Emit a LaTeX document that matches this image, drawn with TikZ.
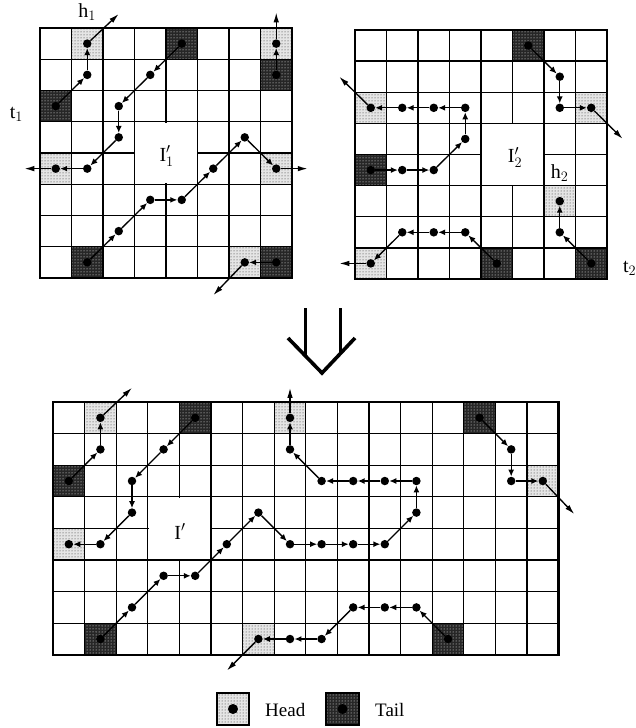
\documentclass[tikz,border=0pt]{standalone}
\usepackage{fontspec}
\setmainfont{Liberation Serif}
\usetikzlibrary{arrows.meta,patterns}
\tikzset{
  gl/.style={line width=1.3pt},
  gridframe/.style={line width=2.6pt},
  headcell/.style={fill=black!10, postaction={pattern=dots, pattern color=black!85}},
  tailcell/.style={fill=black!85, postaction={pattern=dots, pattern color=white}},
  dot/.style={circle, fill=black, inner sep=0pt, minimum size=8.5pt},
  arr/.style={line width=1.35pt, -{Latex[length=7pt,width=6pt]}},
  exitarr/.style={line width=1.35pt, -{Latex[length=10pt,width=5.5pt]}},
  lab/.style={inner sep=0pt, font=\fontsize{20}{24}\selectfont},
  leglab/.style={inner sep=0pt, anchor=base west, font=\fontsize{19}{23}\selectfont},
  bigarrow/.style={line width=3.6pt, line join=miter, line cap=butt},
}
\begin{document}
\begin{tikzpicture}[x=1pt, y=-1pt]
\useasboundingbox (0,0) rectangle (636,728);

% ---------------- top-left grid I1' ----------------
\begin{scope}[shift={(40pt,-28pt)}, x=31.5pt, y=-31.25pt]
  \foreach \c/\r in {1/0,7/0,0/4,7/4,6/7} \path[headcell] (\c,\r) rectangle ++(1,1);
  \foreach \c/\r in {4/0,7/1,0/2,1/7,7/7} \path[tailcell] (\c,\r) rectangle ++(1,1);
  \foreach \i in {1,...,7} {\draw[gl] (\i,0) -- (\i,8); \draw[gl] (0,\i) -- (8,\i);}
  \fill[white] (3.03,3.03) rectangle (4.97,4.97);
  \draw[gridframe] (0,0) rectangle (8,8);
  \foreach \c/\r in {0/2,1/1,1/0,4/0,3/1,2/2,2/3,1/4,0/4,1/7,2/6,3/5,4/5,5/4,6/3,7/4,7/1,7/0,7/7,6/7}
    \node[dot] (A-\c-\r) at (\c+.5,\r+.5) {};
  \foreach \a/\b in {0-2/1-1,1-1/1-0,4-0/3-1,3-1/2-2,2-2/2-3,2-3/1-4,1-4/0-4,
                     1-7/2-6,2-6/3-5,3-5/4-5,4-5/5-4,5-4/6-3,6-3/7-4,7-1/7-0,7-7/6-7}
    \draw[arr] (A-\a) -- (A-\b);
  \coordinate (A-x1) at (2.5,-0.45);
  \coordinate (A-x2) at (-0.5,4.5);
  \coordinate (A-x3) at (8.5,4.5);
  \coordinate (A-x4) at (7.5,-0.5);
  \coordinate (A-x5) at (5.5,8.55);
  \draw[exitarr] (A-1-0) -- (A-x1);
  \draw[exitarr] (A-0-4) -- (A-x2);
  \draw[exitarr] (A-7-4) -- (A-x3);
  \draw[exitarr] (A-7-0) -- (A-x4);
  \draw[exitarr] (A-6-7) -- (A-x5);
  \node[lab] (h1) at (1.5,-0.5) {h$_1$};
  \node[lab] (t1) at (-0.75,2.75) {t$_1$};
  \node[lab] (I1) at (4.02,4.1) {I$_1'$};
\end{scope}

% ---------------- top-right grid I2' ----------------
\begin{scope}[shift={(355pt,-30pt)}, x=31.5pt, y=-31.125pt]
  \foreach \c/\r in {0/2,7/2,6/5,0/7} \path[headcell] (\c,\r) rectangle ++(1,1);
  \foreach \c/\r in {5/0,0/4,4/7,7/7} \path[tailcell] (\c,\r) rectangle ++(1,1);
  \foreach \i in {1,...,7} {\draw[gl] (\i,0) -- (\i,8); \draw[gl] (0,\i) -- (8,\i);}
  \fill[white] (4.03,3.03) rectangle (5.97,4.97);
  \draw[gridframe] (0,0) rectangle (8,8);
  \foreach \c/\r in {5/0,6/1,6/2,7/2,0/4,1/4,2/4,3/3,3/2,2/2,1/2,0/2,4/7,3/6,2/6,1/6,0/7,7/7,6/6,6/5}
    \node[dot] (B-\c-\r) at (\c+.5,\r+.5) {};
  \foreach \a/\b in {5-0/6-1,6-1/6-2,6-2/7-2,0-4/1-4,1-4/2-4,2-4/3-3,3-3/3-2,3-2/2-2,2-2/1-2,1-2/0-2,
                     4-7/3-6,3-6/2-6,2-6/1-6,1-6/0-7,7-7/6-6,6-6/6-5}
    \draw[arr] (B-\a) -- (B-\b);
  \coordinate (B-x1) at (8.5,3.5);
  \coordinate (B-x2) at (-0.5,1.5);
  \coordinate (B-x3) at (-0.5,7.5);
  \draw[exitarr] (B-7-2) -- (B-x1);
  \draw[exitarr] (B-0-2) -- (B-x2);
  \draw[exitarr] (B-0-7) -- (B-x3);
  \node[lab] (I2) at (5.08,4.1) {I$_2'$};
  \node[lab] (h2) at (6.5,4.6) {h$_2$};
  \node[lab] (t2) at (8.72,7.65) {t$_2$};
\end{scope}

% ---------------- double arrow ----------------
\draw[bigarrow] (288,338) -- (322,373) -- (355,338);
\draw[line width=3pt] (305,308) -- (305,356);
\draw[line width=3pt] (340,308) -- (340,354);

% ---------------- bottom grid I' ----------------
\begin{scope}[shift={(53pt,-402pt)}, x=31.6pt, y=-31.6pt]
  \foreach \c/\r in {1/0,7/0,0/4,6/7,15/2} \path[headcell] (\c,\r) rectangle ++(1,1);
  \foreach \c/\r in {4/0,0/2,1/7,13/0,12/7} \path[tailcell] (\c,\r) rectangle ++(1,1);
  \foreach \i in {1,...,15} \draw[gl] (\i,0) -- (\i,8);
  \foreach \j in {1,...,7} \draw[gl] (0,\j) -- (16,\j);
  \fill[white] (3.03,3.03) rectangle (4.97,4.97);
  \draw[gridframe] (0,0) rectangle (16,8);
  \foreach \c/\r in {0/2,1/1,1/0,4/0,3/1,2/2,2/3,1/4,0/4,
                     1/7,2/6,3/5,4/5,5/4,6/3,7/4,8/4,9/4,10/4,11/3,11/2,10/2,9/2,8/2,7/1,7/0,
                     13/0,14/1,14/2,15/2,12/7,11/6,10/6,9/6,8/7,7/7,6/7}
    \node[dot] (C-\c-\r) at (\c+.5,\r+.5) {};
  \foreach \a/\b in {0-2/1-1,1-1/1-0,4-0/3-1,3-1/2-2,2-2/2-3,2-3/1-4,1-4/0-4,
                     1-7/2-6,2-6/3-5,3-5/4-5,4-5/5-4,5-4/6-3,6-3/7-4,7-4/8-4,8-4/9-4,9-4/10-4,
                     10-4/11-3,11-3/11-2,11-2/10-2,10-2/9-2,9-2/8-2,8-2/7-1,7-1/7-0,
                     13-0/14-1,14-1/14-2,14-2/15-2,
                     12-7/11-6,11-6/10-6,10-6/9-6,9-6/8-7,8-7/7-7,7-7/6-7}
    \draw[arr] (C-\a) -- (C-\b);
  \coordinate (C-x1) at (2.5,-0.45);
  \coordinate (C-x2) at (7.5,-0.45);
  \coordinate (C-x3) at (16.5,3.55);
  \coordinate (C-x4) at (5.5,8.5);
  \draw[exitarr] (C-1-0) -- (C-x1);
  \draw[exitarr] (C-7-0) -- (C-x2);
  \draw[exitarr] (C-15-2) -- (C-x3);
  \draw[exitarr] (C-6-7) -- (C-x4);
  \node[lab] (I) at (4.02,4.1) {I$'$};
\end{scope}

% ---------------- legend ----------------
\node[headcell, minimum size=32pt, inner sep=0pt] (lh) at (233,709) {};
\draw[line width=2pt] (lh.south west) rectangle (lh.north east);
\node[dot, minimum size=10pt] (lhd) at (lh) {};
\node[leglab] (lht) at (265,716) {Head};
\node[tailcell, minimum size=32pt, inner sep=0pt] (lt) at (342.5,709) {};
\draw[line width=2pt] (lt.south west) rectangle (lt.north east);
\node[dot, minimum size=10pt] (ltd) at (lt) {};
\node[leglab] (ltt) at (375,716) {Tail};
\end{tikzpicture}
\end{document}
